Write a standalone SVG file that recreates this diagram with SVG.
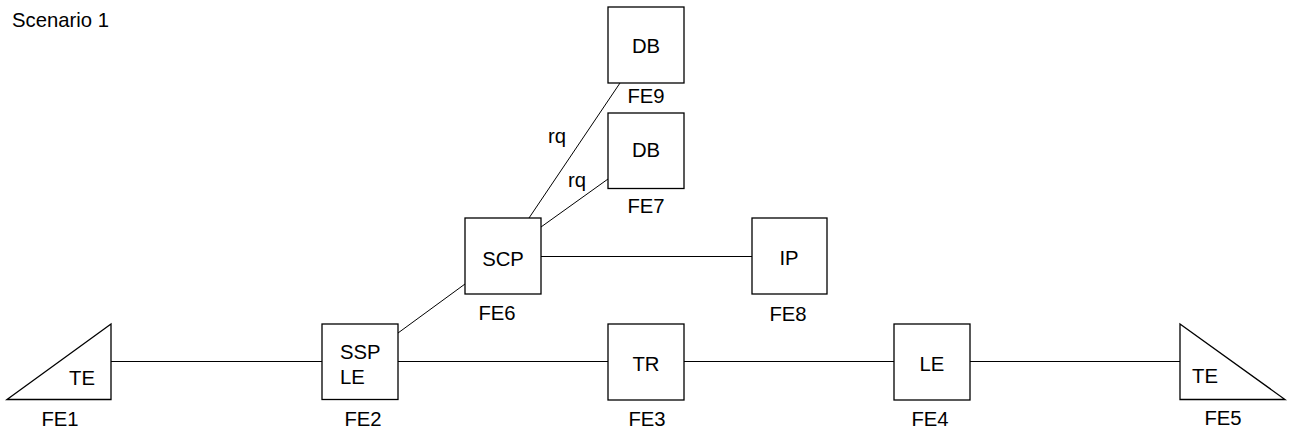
<svg xmlns="http://www.w3.org/2000/svg" width="1289" height="436" viewBox="0 0 1289 436">
<style>
.n{fill:#fff;stroke:#000;stroke-width:1.3}
.c{fill:none;stroke:#000;stroke-width:1}
text{font-family:"Liberation Sans",Arial,sans-serif;font-size:20.3px;fill:#000}
.m{text-anchor:middle}
</style>
<rect width="1289" height="436" fill="#fff"/>
<text x="12" y="27">Scenario 1</text>
<g id="connectors">
<line class="c" x1="111" y1="361.5" x2="322" y2="361.5"/>
<line class="c" x1="398" y1="361.5" x2="608" y2="361.5"/>
<line class="c" x1="684" y1="361.5" x2="894" y2="361.5"/>
<line class="c" x1="970" y1="361.5" x2="1180" y2="361.5"/>
<line class="c" x1="398" y1="333" x2="465" y2="284"/>
<line class="c" x1="541" y1="256.5" x2="752" y2="256.5"/>
<line class="c" x1="529" y1="218" x2="620" y2="83"/>
<line class="c" x1="541" y1="227" x2="608" y2="179"/>
<text class="m" x="557" y="143">rq</text>
<text class="m" x="577" y="187">rq</text>
</g>
<g id="FE1">
<polygon class="n" points="7,399.5 111,324 111,399.5"/>
<text class="m" x="82" y="385">TE</text>
<text class="m" x="60" y="426">FE1</text>
</g>
<g id="FE2">
<rect class="n" x="322" y="324" width="76" height="75.5"/>
<text x="340" y="358.5">SSP</text>
<text x="340" y="384">LE</text>
<text class="m" x="363" y="426">FE2</text>
</g>
<g id="FE3">
<rect class="n" x="608" y="324" width="76" height="76"/>
<text class="m" x="646" y="371">TR</text>
<text class="m" x="647" y="426">FE3</text>
</g>
<g id="FE4">
<rect class="n" x="894" y="324" width="76" height="76"/>
<text class="m" x="932" y="371">LE</text>
<text class="m" x="930" y="426">FE4</text>
</g>
<g id="FE5">
<polygon class="n" points="1180,324 1180,399.5 1285,399.5"/>
<text class="m" x="1205" y="383">TE</text>
<text class="m" x="1223" y="425">FE5</text>
</g>
<g id="FE6">
<rect class="n" x="465" y="218" width="76" height="76"/>
<text class="m" x="503" y="266">SCP</text>
<text class="m" x="497" y="320">FE6</text>
</g>
<g id="FE7">
<rect class="n" x="608" y="113" width="76" height="75.5"/>
<text class="m" x="646" y="157">DB</text>
<text class="m" x="646" y="213">FE7</text>
</g>
<g id="FE8">
<rect class="n" x="752" y="218" width="75" height="76"/>
<text class="m" x="789" y="265">IP</text>
<text class="m" x="788" y="321">FE8</text>
</g>
<g id="FE9">
<rect class="n" x="608" y="7" width="76" height="76"/>
<text class="m" x="646" y="53">DB</text>
<text class="m" x="646" y="103">FE9</text>
</g>
</svg>
